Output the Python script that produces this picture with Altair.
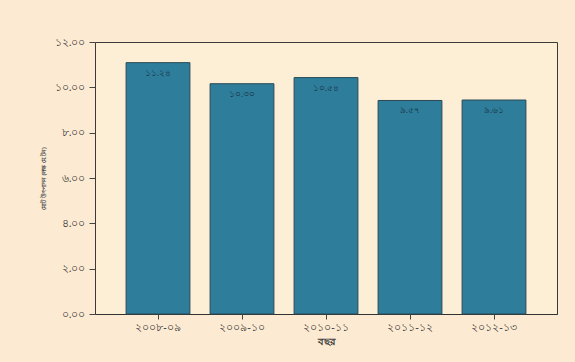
import altair as alt
import pandas as pd

years = ["২০০৮-০৯", "২০০৯-১০", "২০১০-১১", "২০১১-১২", "২০১২-১৩"]
values = [11.09, 10.16, 10.43, 9.42, 9.44]
value_labels = ["১১.২৪", "১০.৩০", "১০.৫৪", "৯.৫৭", "৯.৬১"]
y_ticks = [0, 2, 4, 6, 8, 10, 12]

df = pd.DataFrame({"year": years, "value": values, "label": value_labels})

digits = "০১২৩৪৫৬৭৮৯"
expr = "format(datum.value, '.2f')"
for i, d in enumerate(digits):
    expr = f"replace({expr}, /{i}/g, '{d}')"

x = alt.X("year:N", sort=years, title="বছর",
          scale=alt.Scale(paddingInner=0.24, paddingOuter=0.37),
          axis=alt.Axis(labelAngle=0, labelFontSize=11, labelColor="#3a3a3a",
                        titleFontSize=10, titleColor="#3a3a3a", titlePadding=4,
                        tickColor="#444444", domainColor="#333333", labelPadding=2,
                        tickSize=5))
y = alt.Y("value:Q", title="মোট উৎপাদন (লক্ষ মে.টন)",
          scale=alt.Scale(domain=[0, 12], nice=False),
          axis=alt.Axis(values=y_ticks, labelExpr=expr, grid=False, labelFontSize=10.5,
                        labelColor="#3a3a3a", titleFontSize=6, titleColor="#555555",
                        tickColor="#444444", domain=False, tickSize=6, labelPadding=4,
                        titlePadding=8))

bars = alt.Chart(df).mark_bar(color="#2d7d9b", stroke="#2b4a55", strokeWidth=1).encode(x=x, y=y)
texts = alt.Chart(df).mark_text(baseline="top", dy=6, fontSize=8.5, color="#1b3442").encode(
    x=alt.X("year:N", sort=years), y="value:Q", text="label:N")

chart = (bars + texts).properties(
    width=462, height=272,
    background="#fcebd2",
    padding={"left": 95, "top": 42, "right": 18, "bottom": 48},
    autosize=alt.AutoSizeParams(type="none"),
).configure(
    font="Noto Sans",
    view=alt.ViewConfig(stroke="#3a3a3a", strokeWidth=1, fill="#fdeed6"),
)

chart.save("out.html", embed_options={"renderer": "svg", "actions": False})
